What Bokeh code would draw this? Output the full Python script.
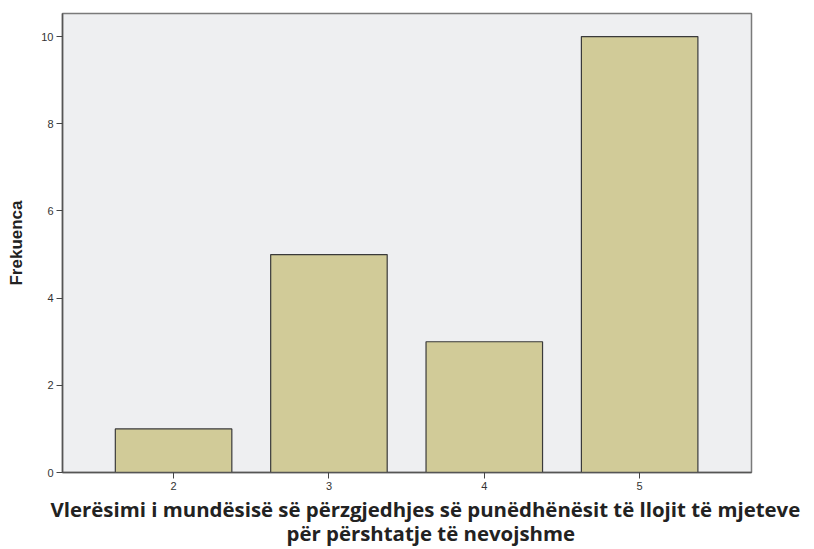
from bokeh.plotting import figure
from bokeh.models import Range1d, FixedTicker, Title
from bokeh.embed import file_html
from bokeh.resources import INLINE

categories = [2, 3, 4, 5]
frequencies = [1, 5, 3, 10]
y_ticks = [0, 2, 4, 6, 8, 10]
x_title_lines = ["Vlerësimi i mundësisë së përzgjedhjes së punëdhënësit të llojit të mjeteve",
                 "për përshtatje të nevojshme"]
y_title = "Frekuenca"

p = figure(frame_width=689, frame_height=459, output_backend="svg", toolbar_location=None,
           x_range=Range1d(1.285, 5.72), y_range=Range1d(0, 10.53),
           min_border_left=62, min_border_right=60, min_border_top=13, min_border_bottom=76)

p.background_fill_color = "#eeeff1"
p.border_fill_color = "white"
p.outline_line_color = "#7a7a7a"
p.outline_line_width = 1.5

p.vbar(x=categories, top=frequencies, width=0.75, bottom=0,
       fill_color="#d1cb98", line_color="#3a3a3a", line_width=1.2)

p.xgrid.visible = False
p.ygrid.visible = False

p.xaxis.ticker = FixedTicker(ticks=categories)
p.yaxis.ticker = FixedTicker(ticks=y_ticks)
for ax in (p.xaxis, p.yaxis):
    ax.minor_tick_line_color = None
    ax.major_tick_in = 0
    ax.major_tick_out = 6
    ax.major_tick_line_color = "#444444"
    ax.axis_line_color = "#555555"
    ax.axis_line_width = 1.5
    ax.major_label_text_font = "Liberation Sans"
    ax.major_label_text_font_size = "11px"
    ax.major_label_text_color = "#333333"

p.xaxis.major_label_standoff = 3
p.yaxis.major_label_standoff = 3

p.yaxis.axis_label = y_title
p.yaxis.axis_label_text_font = "Liberation Sans"
p.yaxis.axis_label_text_font_style = "bold"
p.yaxis.axis_label_text_font_size = "17px"
p.yaxis.axis_label_text_color = "#222222"
p.yaxis.axis_label_standoff = 12

# two-line x-axis title as titles below the axis, left-aligned with offsets
offsets = [-12, 224]
standoffs = [0, -12]
for line, off, so in zip(x_title_lines, offsets, standoffs):
    p.add_layout(Title(text=line, align="left", offset=off, standoff=so,
                       text_font="Open Sans", text_font_style="bold",
                       text_font_size="20.4px", text_color="#222222",
                       text_line_height=1.0), "below")

open("out.html", "w").write(file_html(p, INLINE))
